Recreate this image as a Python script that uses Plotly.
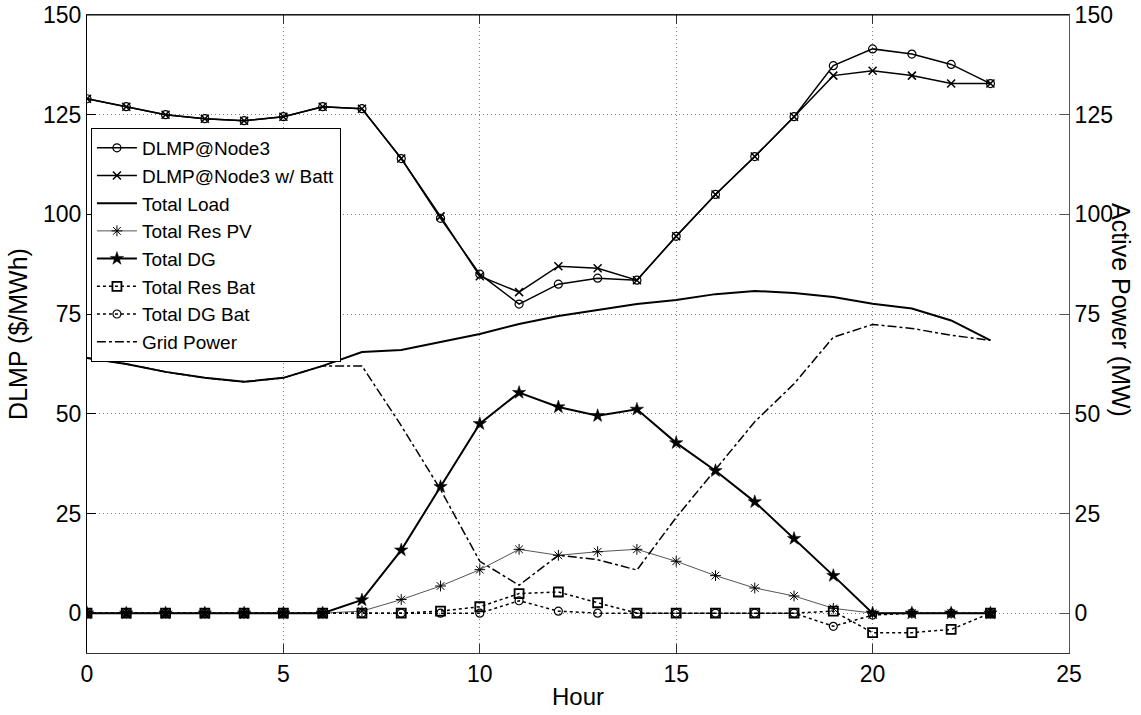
import plotly.graph_objects as go

hours = list(range(24))
dlmp = [129, 127, 125, 124, 123.5, 124.5, 127, 126.5, 114, 99, 85, 77.5, 82.5, 84, 83.5,
        94.5, 105, 114.5, 124.5, 137.3, 141.5, 140.2, 137.6, 132.8]
dlmp_batt = [129, 127, 125, 124, 123.5, 124.5, 127, 126.5, 114, 99.5, 84.5, 80.5, 87, 86.5, 83.5,
             94.5, 105, 114.5, 124.5, 134.8, 136, 134.8, 132.8, 132.8]
total_load = [64, 62.5, 60.5, 59, 58, 59, 62, 65.5, 66, 68, 70, 72.5, 74.5, 76, 77.5,
              78.5, 80, 80.8, 80.3, 79.3, 77.6, 76.4, 73.4, 68.4]
res_pv = [0, 0, 0, 0, 0, 0, 0, 0.5, 3.4, 6.8, 10.9, 16.0, 14.5, 15.4, 16.0,
          13.0, 9.4, 6.3, 4.3, 1.2, 0, 0, 0, 0]
total_dg = [0, 0, 0, 0, 0, 0, 0, 3.3, 15.8, 31.7, 47.5, 55.3, 51.7, 49.5, 51.1,
            42.7, 35.7, 27.9, 18.7, 9.4, 0, 0, 0, 0]
res_bat = [0, 0, 0, 0, 0, 0, 0, 0, 0, 0.5, 1.6, 4.9, 5.3, 2.6, 0,
           0, 0, 0, 0, 0.5, -4.9, -4.9, -4.1, 0]
dg_bat = [0, 0, 0, 0, 0, 0, 0, 0, 0, 0, 0, 3.1, 0.5, 0, 0,
          0, 0, 0, 0, -3.3, -0.5, 0, 0, 0]
grid_power = [64, 62.5, 60.5, 59, 58, 59, 62, 62, 47, 31, 13, 7, 14.5, 13.4, 10.8,
              24, 36, 48, 57.5, 69.2, 72.4, 71.4, 69.7, 68.4]

x_ticks = [0, 5, 10, 15, 20, 25]
y_ticks = [0, 25, 50, 75, 100, 125, 150]

fig = go.Figure()

fig.add_trace(go.Scatter(x=hours, y=dlmp, name="DLMP@Node3", mode="lines+markers",
                         line=dict(color="black", width=1.5),
                         marker=dict(symbol="circle-open", size=8, color="black", line=dict(width=1.2))))
fig.add_trace(go.Scatter(x=hours, y=dlmp_batt, name="DLMP@Node3 w/ Batt", mode="lines+markers",
                         line=dict(color="black", width=1.5),
                         marker=dict(symbol="x-thin-open", size=8, color="black", line=dict(width=1.5, color="black"))))
fig.add_trace(go.Scatter(x=hours, y=total_load, name="Total Load", mode="lines", yaxis="y2",
                         line=dict(color="black", width=2)))
fig.add_trace(go.Scatter(x=hours, y=res_pv, name="Total Res PV", mode="lines+markers", yaxis="y2",
                         line=dict(color="#555555", width=1),
                         marker=dict(symbol="asterisk-open", size=9, color="black", line=dict(width=1, color="black"))))
fig.add_trace(go.Scatter(x=hours, y=total_dg, name="Total DG", mode="lines+markers", yaxis="y2",
                         line=dict(color="black", width=2),
                         marker=dict(symbol="star", size=10, color="black", line=dict(width=0.5, color="black"))))
fig.add_trace(go.Scatter(x=hours, y=res_bat, name="Total Res Bat", mode="lines+markers", yaxis="y2",
                         line=dict(color="black", width=1.5, dash="dot"),
                         marker=dict(symbol="square-open", size=9, color="black", line=dict(width=1.8))))
fig.add_trace(go.Scatter(x=hours, y=dg_bat, name="Total DG Bat", mode="lines+markers", yaxis="y2",
                         line=dict(color="black", width=1.5, dash="dot"),
                         marker=dict(symbol="circle-open", size=8, color="black", line=dict(width=1.2))))
fig.add_trace(go.Scatter(x=hours, y=grid_power, name="Grid Power", mode="lines", yaxis="y2",
                         line=dict(color="black", width=1.5, dash="dashdot")))

font_family = "Liberation Sans, Arial, sans-serif"
grid_common = dict(showgrid=True, gridcolor="#808080", gridwidth=1, griddash="1px,3px",
                   zeroline=False, automargin=False)

fig.update_layout(
    width=1141, height=715,
    margin=dict(l=87, r=72, t=15, b=62, autoexpand=False),
    paper_bgcolor="white", plot_bgcolor="white",
    font=dict(family=font_family, color="black"),
    showlegend=True,
    legend=dict(x=0.004, y=0.823, xanchor="left", yanchor="top",
                bgcolor="white", bordercolor="black", borderwidth=1,
                font=dict(size=19, color="black", family=font_family),
                tracegroupgap=0, itemwidth=40),
    xaxis=dict(range=[0, 25], tickvals=x_ticks, mirror="ticks",
               showline=True, linecolor="#333333", linewidth=1,
               ticks="inside", ticklen=9, tickcolor="#333333",
               tickfont=dict(size=23, color="black", family=font_family),
               title=dict(text="Hour", font=dict(size=24), standoff=2), **grid_common),
    yaxis=dict(range=[-10, 150], tickvals=y_ticks,
               showline=True, linecolor="black", linewidth=1,
               ticks="inside", ticklen=9, tickcolor="black",
               tickfont=dict(size=23, color="black", family=font_family),
               title=dict(text="DLMP ($/MWh)", font=dict(size=25), standoff=8), **grid_common),
    yaxis2=dict(range=[-10, 150], tickvals=y_ticks, overlaying="y", side="right",
                showgrid=False, zeroline=False, automargin=False,
                showline=True, linecolor="#555555", linewidth=1,
                ticks="inside", ticklen=9, tickcolor="#555555",
                tickfont=dict(size=23, color="black", family=font_family)),
    shapes=[dict(type="line", xref="paper", yref="paper", x0=0, x1=1, y0=1, y1=1,
                 line=dict(color="black", width=1))],
    annotations=[dict(text="Active Power (MW)", textangle=90,
                      x=(1121 - 87) / 982.0, y=1 - (310 - 15) / 638.0,
                      xref="paper", yref="paper", xanchor="center", yanchor="middle",
                      showarrow=False,
                      font=dict(size=25, color="black", family=font_family))],
)

fig.write_html("out.html", config={"displayModeBar": False},
               post_script="document.body.style.margin='0';document.body.style.overflow='hidden';")
